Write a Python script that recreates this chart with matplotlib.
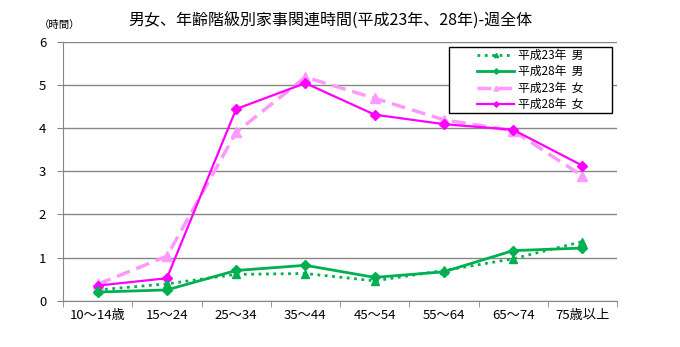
import numpy as np
import matplotlib.pyplot as plt
from matplotlib.patches import Rectangle

plt.rcParams['font.family'] = ['Noto Sans CJK JP', 'DejaVu Sans']

ages = ["10～14歳", "15～24", "25～34", "35～44", "45～54", "55～64", "65～74", "75歳以上"]
men_h23 = [0.25, 0.39, 0.61, 0.63, 0.46, 0.70, 0.97, 1.37]
men_h28 = [0.20, 0.25, 0.70, 0.82, 0.54, 0.67, 1.16, 1.22]
women_h23 = [0.38, 1.03, 3.90, 5.18, 4.69, 4.19, 3.94, 2.89]
women_h28 = [0.35, 0.52, 4.44, 5.04, 4.31, 4.09, 3.96, 3.13]

green = "#00B050"
fig = plt.figure(figsize=(6.8, 3.47), dpi=100)
ax = fig.add_axes([63/680, 1-300.7/347, 554/680, 259/347])

x = np.arange(len(ages))
ax.plot(x, men_h23, color=green, ls=":", lw=2, marker="^", ms=6, label="平成23年  男", zorder=4)
ax.plot(x, men_h28, color=green, ls="-", lw=2, marker="D", ms=5.5, label="平成28年  男", zorder=5)
ax.plot(x, women_h23, color="#FF99FF", ls=(0, (4, 2)), lw=2.5, marker="^", ms=7, label="平成23年  女", zorder=2)
ax.plot(x, women_h28, color="#FF00FF", ls="-", lw=1.6, marker="D", ms=5.5, label="平成28年  女", zorder=3)

ax.set_xlim(-0.5, len(ages) - 0.5)
ax.set_ylim(0, 6)
ax.set_yticks(range(7))
ax.yaxis.grid(True, color="#868686", lw=1)
ax.set_axisbelow(True)
ax.set_xticks(x)
ax.set_xticklabels(ages, fontsize=9.5)
ax.set_xticks(np.arange(-0.5, len(ages)), minor=True)
ax.tick_params(axis="x", which="major", length=0, pad=6)
ax.tick_params(axis="x", which="minor", length=4, color="#868686")
ax.tick_params(axis="y", length=4, color="#868686", labelsize=9.5, pad=8)
for s in ["top", "right"]:
    ax.spines[s].set_visible(False)
for s in ["left", "bottom"]:
    ax.spines[s].set_color("#868686")

fig.text(330/680, 1-20/347, "男女、年齢階級別家事関連時間(平成23年、28年)-週全体",
         ha="center", va="center", fontsize=11.5)
fig.text(60/680, 1-25/347, "（時間）", ha="center", va="center", fontsize=7.5)

# legend box drawn separately so its size matches
fig.patches.append(Rectangle((449/680, 1-113/347), 163/680, 66/347, transform=fig.transFigure,
                             fill=True, facecolor="white", edgecolor="black", lw=1, zorder=10))
leg = fig.legend(loc="center", bbox_to_anchor=(530/680, 1-80/347), fontsize=8.5,
                 frameon=False, handlelength=3.2, handletextpad=0.3,
                 labelspacing=0.3, borderpad=0, markerscale=0.5)
leg.set_zorder(11)

fig.savefig("out.png", dpi=100)
